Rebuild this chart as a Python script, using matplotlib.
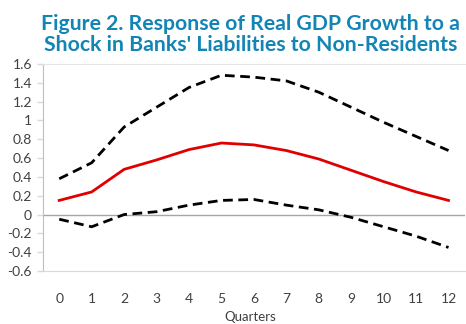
import matplotlib
matplotlib.use("Agg")
import matplotlib.pyplot as plt
from matplotlib.ticker import FuncFormatter

plt.rcParams['font.family'] = ['Lato', 'DejaVu Sans']
plt.rcParams['axes.unicode_minus'] = False

# data
quarters = list(range(13))
response = [0.15, 0.24, 0.48, 0.58, 0.69, 0.76, 0.74, 0.68, 0.59, 0.47, 0.35, 0.24, 0.15]
upper = [0.38, 0.55, 0.93, 1.14, 1.35, 1.48, 1.46, 1.42, 1.30, 1.14, 0.98, 0.83, 0.68]
lower = [-0.05, -0.13, 0.00, 0.03, 0.10, 0.15, 0.16, 0.10, 0.05, -0.03, -0.13, -0.23, -0.35]
yticks = [-0.6, -0.4, -0.2, 0, 0.2, 0.4, 0.6, 0.8, 1, 1.2, 1.4, 1.6]

fig = plt.figure(figsize=(4.66, 3.24), dpi=100)
ax = fig.add_axes([0.0923, 0.1636, 0.905, 0.639])

ax.axhline(0, color='#A6A6A6', lw=1, zorder=1)
ax.plot(quarters, upper, color='black', lw=2, dashes=(3.5, 2), zorder=3)
ax.plot(quarters, lower, color='black', lw=2, dashes=(3.5, 2), zorder=3)
ax.plot(quarters, response, color='#E00000', lw=2, zorder=4)

ax.set_xlim(-0.5, 12.5)
ax.set_ylim(-0.6, 1.6)
ax.set_xticks(quarters)
ax.set_yticks(yticks)
ax.yaxis.set_major_formatter(FuncFormatter(lambda v, p: f"{v:g}"))
ax.tick_params(axis='x', length=0, pad=16, labelsize=10, labelcolor='#404040')
ax.tick_params(axis='y', length=4, width=1, color='#D9D9D9', pad=4,
               labelsize=10, labelcolor='#404040')

ax.spines['right'].set_visible(False)
ax.spines['top'].set_color('#E3E3E3')
ax.spines['left'].set_color('#BFBFBF')
ax.spines['bottom'].set_color('#D9D9D9')

# axis title sits just under the tick labels
fig.text(0.537, 0.022, 'Quarters', ha='center', va='center', fontsize=9.5, color='#404040')

fig.text(0.537, 0.958, "Figure 2. Response of Real GDP Growth to a\nShock in Banks' Liabilities to Non-Residents",
         ha='center', va='top', fontsize=15.3, fontweight='bold', color='#1385B5',
         linespacing=1.08)

fig.savefig('out.png', dpi=100)
